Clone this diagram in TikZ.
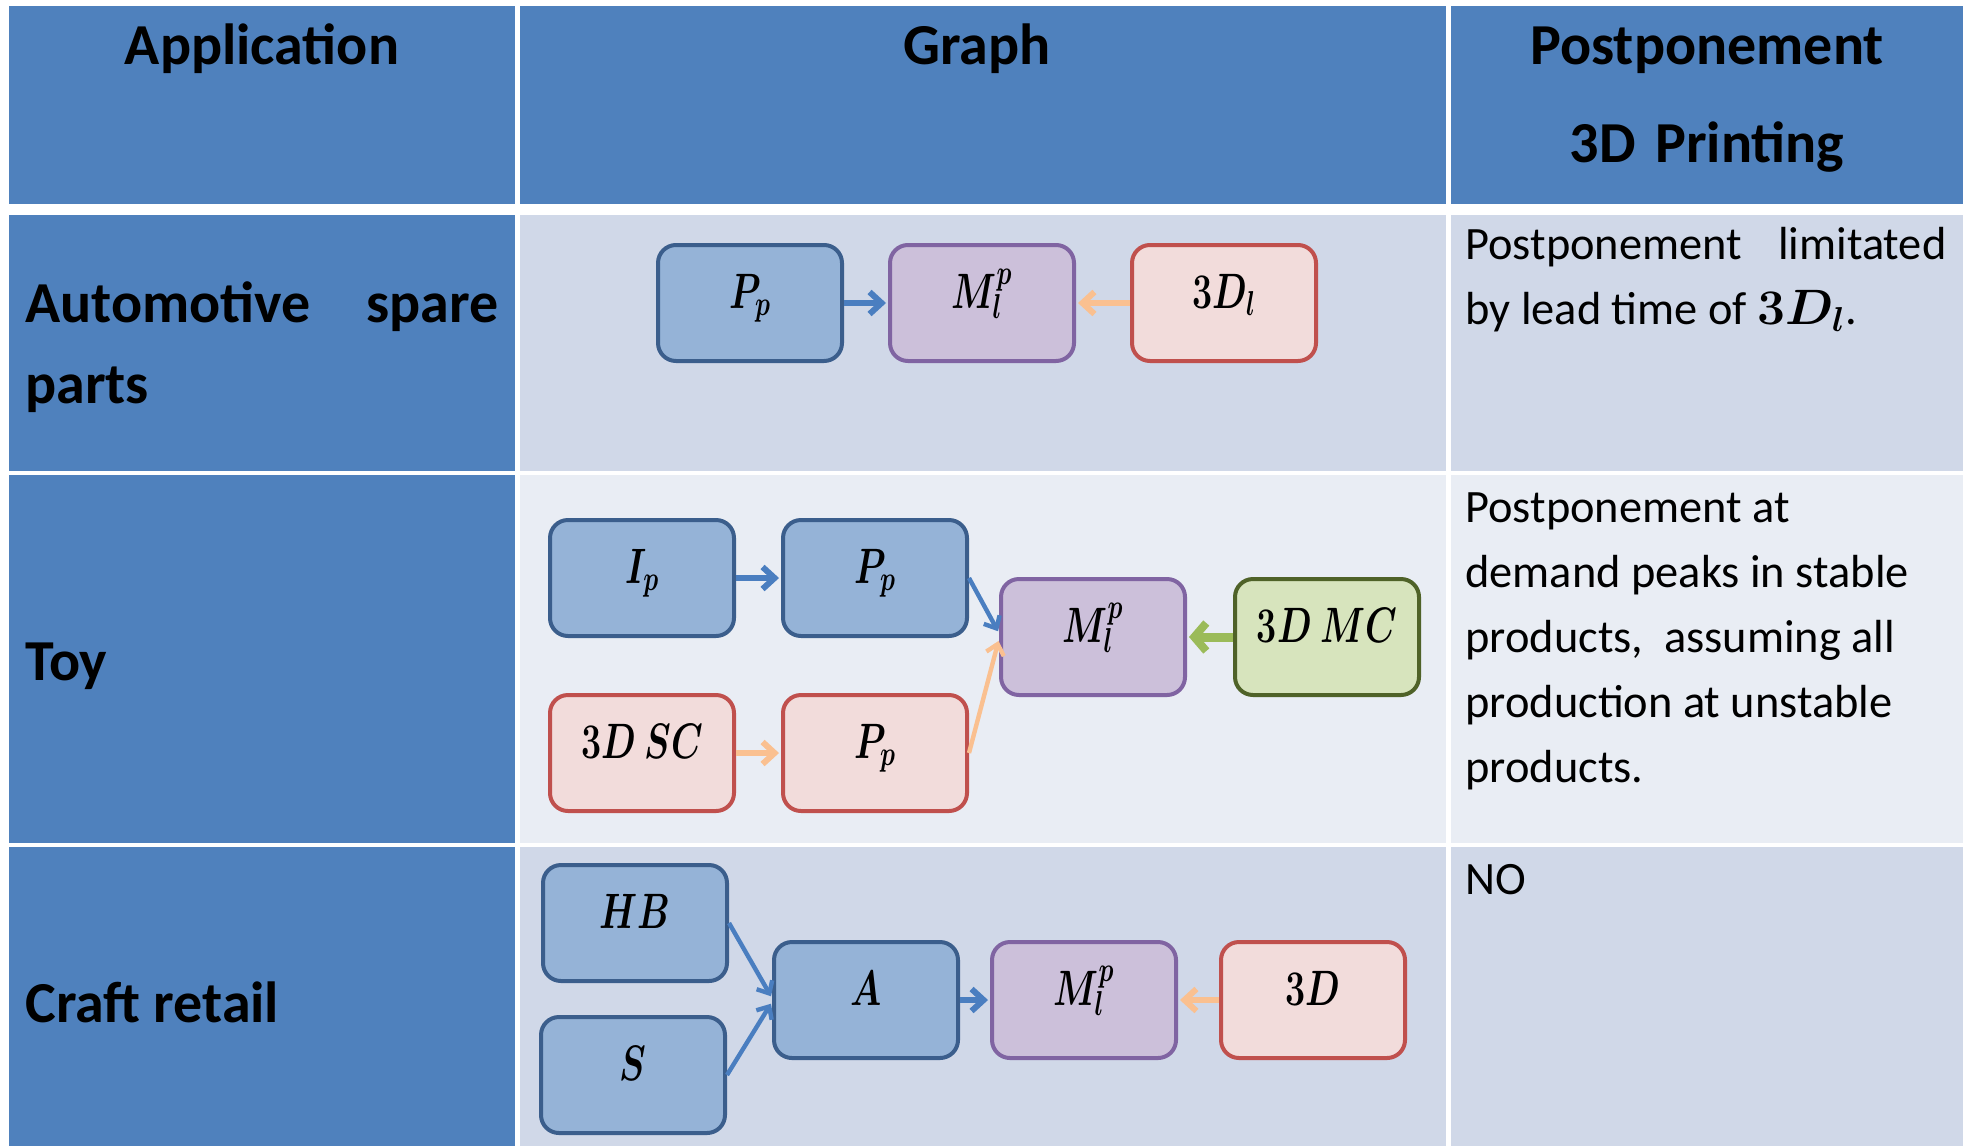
\documentclass[tikz,border=0pt]{standalone}
\usepackage{fontspec}
\setmainfont{Carlito}
\usepackage{graphicx}
\usetikzlibrary{arrows.meta}
\definecolor{hdr}{HTML}{4F81BD}
\definecolor{rowa}{HTML}{D0D8E8}
\definecolor{rowb}{HTML}{E9EDF4}
\definecolor{bfill}{HTML}{95B3D7}
\definecolor{bdraw}{HTML}{3B5E8C}
\definecolor{pfill}{HTML}{CCC0DA}
\definecolor{pdraw}{HTML}{8064A2}
\definecolor{rfill}{HTML}{F2DCDB}
\definecolor{rdraw}{HTML}{C0504D}
\definecolor{gfill}{HTML}{D7E4BD}
\definecolor{gdraw}{HTML}{4F6228}
\definecolor{arblue}{HTML}{4A7EC0}
\definecolor{arorange}{HTML}{FAC090}
\definecolor{argreen}{HTML}{9BBB59}
\newcommand{\lbl}[1]{\scalebox{0.72}[1]{\fontsize{26}{26}\selectfont\boldmath$#1$}}
\newcommand{\natsp}{\spaceskip=0pt\xspaceskip=0pt\relax}
\tikzset{
  hdrtext/.style={font=\fontsize{29}{49}\selectfont\bfseries, inner sep=0pt},
  coltext/.style={font=\fontsize{29}{40.7}\selectfont\bfseries, inner sep=0pt},
  bodytext/.style={font=\fontsize{23.2}{32.5}\selectfont, inner sep=0pt},
  gbox/.style={rounded corners=9pt, line width=2pt, minimum width=92pt, minimum height=58pt,
    inner sep=0pt, text height=10pt, text depth=4.5pt},
  bluebox/.style={gbox, draw=bdraw, fill=bfill},
  purplebox/.style={gbox, draw=pdraw, fill=pfill},
  redbox/.style={gbox, draw=rdraw, fill=rfill},
  greenbox/.style={gbox, draw=gdraw, fill=gfill},
  arrthick/.style={line width=3pt, -{Straight Barb[length=6pt,width=11pt,line width=3pt]}, shorten >=1pt},
  arrthin/.style={line width=2.2pt, -{Straight Barb[length=5pt,width=9pt,line width=2.2pt]}, shorten >=1pt},
  arrgreen/.style={line width=4.5pt, -{Straight Barb[length=6pt,width=14pt,line width=4pt]}, shorten >=1pt},
}
\begin{document}
\begin{tikzpicture}[x=0.5pt,y=-0.5pt]
\useasboundingbox (0,0) rectangle (1963,1146);
\fill[white] (0,0) rectangle (1963,1146);
% header cells
\fill[hdr] (9,6) rectangle (515,204);
\fill[hdr] (520,6) rectangle (1446,204);
\fill[hdr] (1451,6) rectangle (1963,204);
% row 1
\fill[hdr] (9,215) rectangle (515,471);
\fill[rowa] (520,215) rectangle (1446,471);
\fill[rowa] (1451,215) rectangle (1963,471);
% row 2
\fill[hdr] (9,475) rectangle (515,843);
\fill[rowb] (520,475) rectangle (1446,843);
\fill[rowb] (1451,475) rectangle (1963,843);
% row 3
\fill[hdr] (9,847) rectangle (515,1146);
\fill[rowa] (520,847) rectangle (1446,1146);
\fill[rowa] (1451,847) rectangle (1963,1146);

% header texts
\node[hdrtext, anchor=base] (happ) at (262,64) {Application};
\node[hdrtext, anchor=base] (hgraph) at (977,64) {Graph};
\node[hdrtext, anchor=base, align=center, text width=255pt] (hpost) at (1707,64) {\natsp Postponement\\3D Printing};

% first column texts
\node[coltext, anchor=base west, align=left, text width=240pt] (tauto) at (25,322) {\natsp\makebox[236.5pt][l]{Automotive\hfill spare}\\parts};
\node[coltext, anchor=base west] (ttoy) at (25,680) {Toy};
\node[coltext, anchor=base west] (tcraft) at (25,1022) {Craft retail};

% third column texts
\node[bodytext, anchor=base west, align=left, text width=243pt] (p1) at (1465,259) {\natsp\makebox[240.5pt][l]{Postponement\hfill limitated}\\by lead time of {\boldmath$3D_l$.}};
\node[bodytext, anchor=base west, align=left, text width=243pt] (p2) at (1465,522) {\natsp Postponement at\\demand peaks in stable\\products,\ \ assuming all\\production at unstable\\products.};
\node[bodytext, anchor=base west] (p3) at (1465,894) {NO};

% row 1 graph
\node[bluebox] (r1p) at (750,303) {\lbl{P_p}};
\node[purplebox] (r1m) at (982,303) {\lbl{M_l^p}};
\node[redbox] (r1d) at (1224,303) {\lbl{3D_l}};
\draw[arrthick, arblue] (r1p) -- (r1m);
\draw[arrthick, arorange] (r1d) -- (r1m);

% row 2 graph
\node[bluebox] (ip) at (642,578) {\lbl{I_p}};
\node[bluebox] (pp1) at (875,578) {\lbl{P_p}};
\node[purplebox] (m2) at (1093,637) {\lbl{M_l^p}};
\node[greenbox] (mc) at (1327,637) {\lbl{3D\ MC}};
\node[redbox] (sc) at (642,753) {\lbl{3D\ SC}};
\node[redbox] (pp2) at (875,753) {\lbl{P_p}};
\draw[arrthick, arblue] (ip) -- (pp1);
\draw[arrthin, arblue] (pp1.east) -- ([yshift=2pt]m2.west);
\draw[arrthin, arorange] (pp2.east) -- ([yshift=-1pt]m2.west);
\draw[arrthick, arorange] (sc) -- (pp2);
\draw[arrgreen, argreen] (mc) -- (m2);

% row 3 graph
\node[bluebox] (hb) at (635,923) {\lbl{HB}};
\node[bluebox] (s) at (633,1075) {\lbl{S}};
\node[bluebox] (a) at (866,1000) {\lbl{A}};
\node[purplebox] (m3) at (1084,1000) {\lbl{M_l^p}};
\node[redbox] (d3) at (1313,1000) {\lbl{3D}};
\draw[arrthin, arblue] (hb.east) -- ([yshift=1pt]a.west);
\draw[arrthin, arblue] (s.east) -- ([yshift=-1pt]a.west);
\draw[arrthick, arblue] (a) -- (m3);
\draw[arrthick, arorange] (d3) -- (m3);
\end{tikzpicture}
\end{document}
